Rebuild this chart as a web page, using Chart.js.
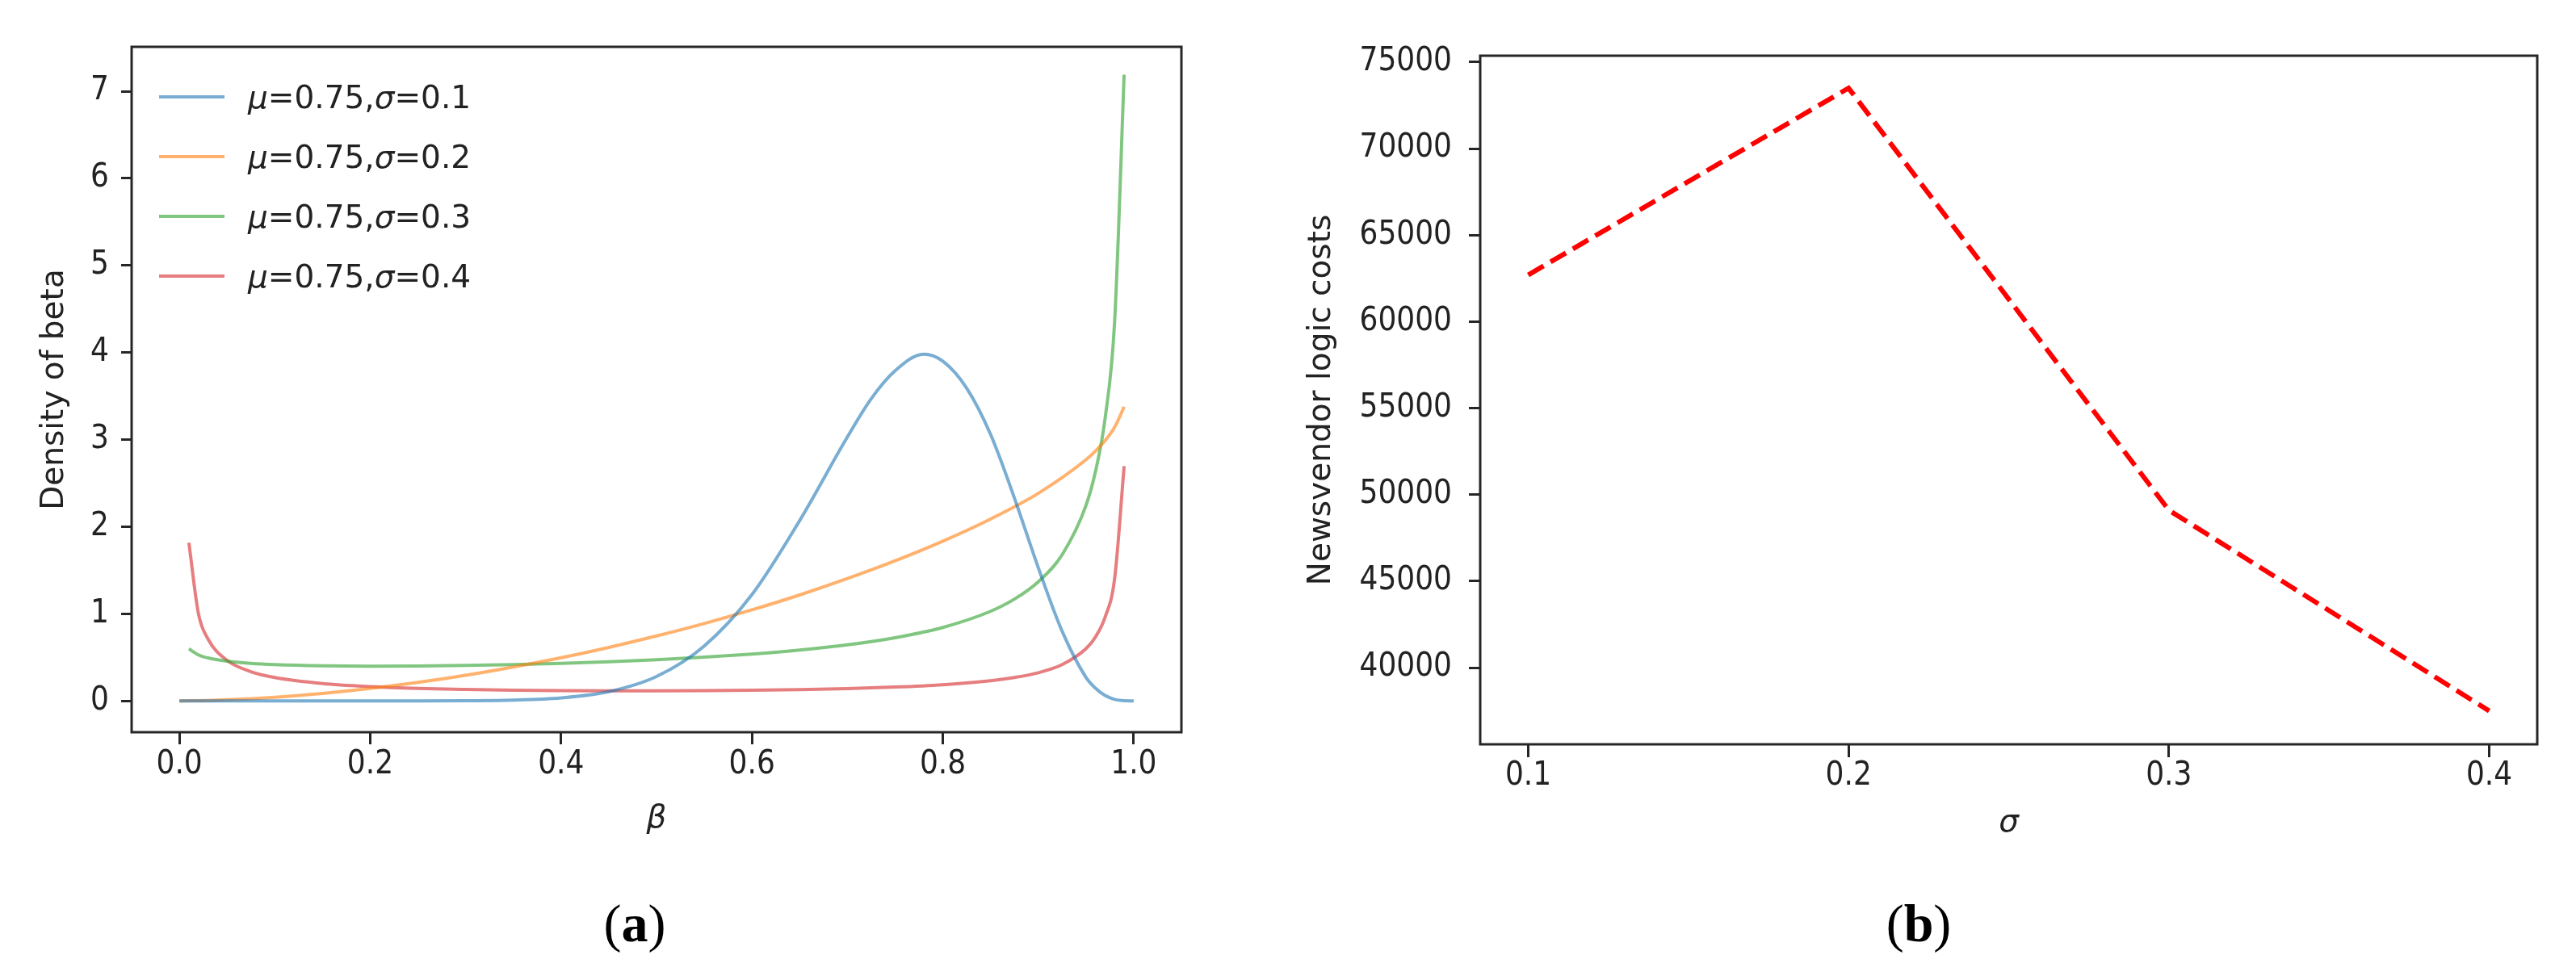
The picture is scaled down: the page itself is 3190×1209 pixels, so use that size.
<!DOCTYPE html>
<html>
<head>
<meta charset="utf-8">
<script src="https://cdn.jsdelivr.net/npm/chart.js@4.4.0/dist/chart.umd.min.js"></script>
<style>
  html, body { margin: 0; padding: 0; background: #fff; }
  #page { position: relative; width: 3190px; height: 1209px; overflow: hidden; background: #fff; }
  canvas { position: absolute; top: 0; }
  #betaChart { left: 0; }
  #costChart { left: 1560px; }
  .caption {
    position: absolute; top: 1104px; width: 300px; text-align: center;
    font-family: "Liberation Serif", "Times New Roman", serif;
    font-size: 66px; line-height: 80px; color: #000;
  }
</style>
</head>
<body>
<div id="page">
  <canvas id="betaChart" width="1560" height="1080"></canvas>
  <canvas id="costChart" width="1630" height="1080"></canvas>
  <div class="caption" style="left:636px">(<b>a</b>)</div>
  <div class="caption" style="left:2226px">(<b>b</b>)</div>
</div>
<script>
// ---- panel (a): density of beta ----
const betaGrid = [0, 0.01, 0.02, 0.03, 0.05, 0.075, 0.1, 0.15, 0.2, 0.25, 0.3, 0.35, 0.4, 0.45, 0.5, 0.55, 0.6, 0.65, 0.7, 0.725, 0.75, 0.78, 0.8, 0.825, 0.85, 0.875, 0.9, 0.925, 0.95, 0.96, 0.97, 0.98, 0.99, 1.0];
const densitySigma01 = [0, 0, 0, 0, 0, 0, 0, 0, 0.0001, 0.0002, 0.0017, 0.0086, 0.034, 0.106, 0.28, 0.63, 1.22, 2.07, 3.03, 3.47, 3.79, 3.98, 3.90, 3.59, 3.06, 2.33, 1.53, 0.80, 0.27, 0.145, 0.061, 0.017, 0.002, 0];
const densitySigma02 = [0, 0.0007, 0.0024, 0.0049, 0.012, 0.025, 0.042, 0.085, 0.142, 0.212, 0.294, 0.389, 0.495, 0.614, 0.745, 0.888, 1.045, 1.216, 1.404, null, 1.608, null, 1.834, null, 2.088, null, 2.383, null, 2.768, 2.869, 2.988, 3.141, 3.376, null];
const densitySigma03 = [null, 0.597, 0.528, 0.493, 0.455, 0.430, 0.416, 0.402, 0.398, 0.400, 0.406, 0.417, 0.431, 0.449, 0.472, 0.501, 0.537, 0.583, 0.643, null, 0.725, null, 0.843, null, 1.028, 1.168, 1.367, 1.677, 2.243, 2.636, 3.24, 4.35, 7.19, null];
const densitySigma04 = [null, 1.816, 1.002, 0.711, 0.465, 0.335, 0.268, 0.199, 0.164, 0.143, 0.131, 0.123, 0.118, 0.116, 0.116, 0.118, 0.122, 0.129, 0.141, null, 0.158, null, 0.185, null, 0.231, 0.268, 0.323, 0.416, 0.599, 0.734, 0.959, 1.401, 2.695, null];
const seriesLabels = ['μ=0.75,σ=0.1', 'μ=0.75,σ=0.2', 'μ=0.75,σ=0.3', 'μ=0.75,σ=0.4'];
const betaTicks = [0, 0.2, 0.4, 0.6, 0.8, 1.0];
const densityTicks = [0, 1, 2, 3, 4, 5, 6, 7];

// ---- panel (b): newsvendor logic costs ----
const sigmaLevels = [0.1, 0.2, 0.3, 0.4];
const logicCosts = [62700, 73500, 49100, 37500];
const sigmaTicks = [0.1, 0.2, 0.3, 0.4];
const costTicks = [40000, 45000, 50000, 55000, 60000, 65000, 70000, 75000];

const seriesColors = ['rgba(31,119,180,0.6)', 'rgba(255,127,14,0.6)', 'rgba(44,160,44,0.6)', 'rgba(214,39,40,0.6)'];
const axisColor = '#262626';
const textColor = '#222';
const tickFont = { family: '"DejaVu Sans Condensed", "DejaVu Sans"', size: 40 };
const titleFont = { family: '"DejaVu Sans"', size: 39 };

// box round the plot area, like matplotlib spines
const framePlugin = {
  id: 'frame',
  afterDraw(chart) {
    const { ctx, chartArea: a } = chart;
    ctx.save();
    ctx.strokeStyle = axisColor;
    ctx.lineWidth = 3;
    ctx.strokeRect(a.left, a.top, a.right - a.left, a.bottom - a.top);
    ctx.restore();
  }
};

// legend in the upper left corner with italic greek letters
const innerLegend = {
  id: 'innerLegend',
  afterDatasetsDraw(chart) {
    const { ctx, chartArea: a } = chart;
    chart.data.datasets.forEach((ds, i) => {
      const y = a.top + 62 + i * 74;
      ctx.save();
      ctx.strokeStyle = ds.borderColor;
      ctx.lineWidth = 4;
      ctx.beginPath();
      ctx.moveTo(a.left + 34, y);
      ctx.lineTo(a.left + 115, y);
      ctx.stroke();
      ctx.fillStyle = textColor;
      let x = a.left + 144;
      for (const ch of ds.label) {
        ctx.font = (/[μσ]/.test(ch) ? 'italic ' : '') + '39px "DejaVu Sans"';
        ctx.fillText(ch, x, y + 14);
        x += ctx.measureText(ch).width;
      }
      ctx.restore();
    });
  }
};

function toPoints(xs, ys) {
  return xs.map((x, i) => ({ x: x, y: ys[i] }));
}

const betaSeries = [densitySigma01, densitySigma02, densitySigma03, densitySigma04];

new Chart(document.getElementById('betaChart'), {
  type: 'line',
  data: {
    datasets: betaSeries.map((ys, i) => ({
      label: seriesLabels[i],
      data: toPoints(betaGrid, ys),
      borderColor: seriesColors[i],
      borderWidth: 4,
      pointRadius: 0,
      fill: false,
      spanGaps: true,
      cubicInterpolationMode: 'monotone'
    }))
  },
  options: {
    responsive: false,
    animation: false,
    devicePixelRatio: 1,
    layout: { padding: { top: 58, right: 97, left: 0, bottom: 0 } },
    plugins: { legend: { display: false }, tooltip: { enabled: false } },
    scales: {
      x: {
        type: 'linear', min: -0.05, max: 1.05,
        afterFit: s => { s.height = 173; },
        afterBuildTicks: s => { s.ticks = betaTicks.map(v => ({ value: v })); },
        ticks: { callback: v => v.toFixed(1), font: tickFont, color: textColor, padding: 2, maxRotation: 0, autoSkip: false },
        grid: { drawOnChartArea: false, tickLength: 15, tickWidth: 3, tickColor: axisColor },
        border: { display: false },
        title: { display: true, text: 'β', color: textColor, font: Object.assign({ style: 'italic' }, titleFont), padding: { top: 0, bottom: 42 } }
      },
      y: {
        type: 'linear', min: -0.36, max: 7.51,
        afterFit: s => { s.width = 163; },
        afterBuildTicks: s => { s.ticks = densityTicks.map(v => ({ value: v })); },
        ticks: { callback: v => String(v), font: tickFont, color: textColor, padding: 15, autoSkip: false },
        grid: { drawOnChartArea: false, tickLength: 13, tickWidth: 3, tickColor: axisColor },
        border: { display: false },
        title: { display: true, text: 'Density of beta', color: textColor, font: titleFont, padding: { top: 44, bottom: 0 } }
      }
    }
  },
  plugins: [framePlugin, innerLegend]
});

new Chart(document.getElementById('costChart'), {
  type: 'line',
  data: {
    datasets: [{
      label: 'Newsvendor logic costs',
      data: toPoints(sigmaLevels, logicCosts),
      borderColor: '#ff0000',
      borderWidth: 6,
      borderDash: [22, 10],
      pointRadius: 0,
      fill: false,
      tension: 0
    }]
  },
  options: {
    responsive: false,
    animation: false,
    devicePixelRatio: 1,
    layout: { padding: { top: 69, right: 48, left: 0, bottom: 0 } },
    plugins: { legend: { display: false }, tooltip: { enabled: false } },
    scales: {
      x: {
        type: 'linear', min: 0.085, max: 0.415,
        afterFit: s => { s.height = 158; },
        afterBuildTicks: s => { s.ticks = sigmaTicks.map(v => ({ value: v })); },
        ticks: { callback: v => v.toFixed(1), font: tickFont, color: textColor, padding: 0, maxRotation: 0, autoSkip: false },
        grid: { drawOnChartArea: false, tickLength: 16, tickWidth: 3, tickColor: axisColor },
        border: { display: false },
        title: { display: true, text: 'σ', color: textColor, font: Object.assign({ style: 'italic' }, titleFont), padding: { top: 0, bottom: 37 } }
      },
      y: {
        type: 'linear', min: 35570, max: 75370,
        afterFit: s => { s.width = 273; },
        afterBuildTicks: s => { s.ticks = costTicks.map(v => ({ value: v })); },
        ticks: { callback: v => String(v), font: tickFont, color: textColor, padding: 21, autoSkip: false },
        grid: { drawOnChartArea: false, tickLength: 14, tickWidth: 3, tickColor: axisColor },
        border: { display: false },
        title: { display: true, text: 'Newsvendor logic costs', color: textColor, font: titleFont, padding: { top: 53, bottom: 0 } }
      }
    }
  },
  plugins: [framePlugin]
});
</script>
</body>
</html>
